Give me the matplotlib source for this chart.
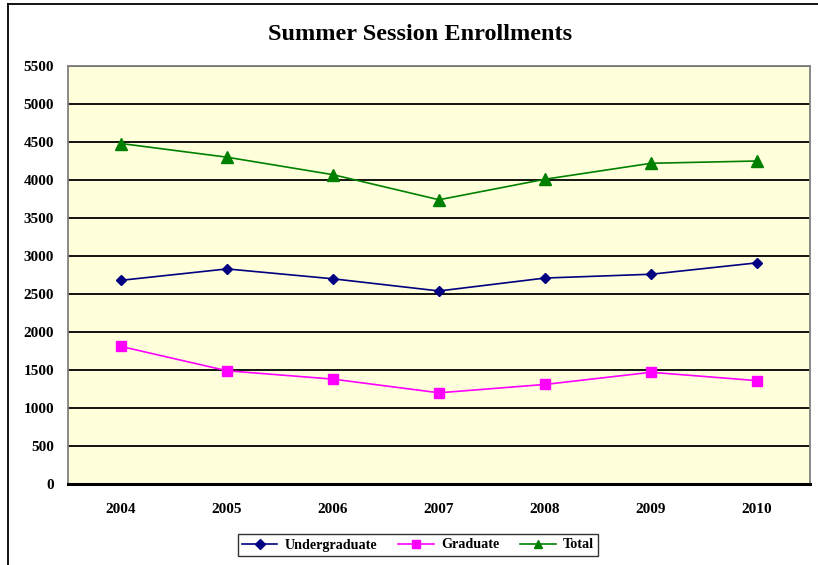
import matplotlib.pyplot as plt

years = ["2004", "2005", "2006", "2007", "2008", "2009", "2010"]
undergrad = [2680, 2830, 2700, 2540, 2710, 2760, 2910]
graduate = [1810, 1490, 1380, 1200, 1310, 1470, 1360]
total = [4480, 4300, 4070, 3740, 4010, 4220, 4250]

plt.rcParams['font.family'] = ['Liberation Serif', 'DejaVu Serif']
plt.rcParams['font.weight'] = 'bold'

fig = plt.figure(figsize=(8.18, 5.65), dpi=100)
ax = fig.add_axes([68/818, 1-484/565, (810-68)/818, (484-66)/565])
ax.set_facecolor('#FFFFDC')

x = range(len(years))
ax.plot(x, undergrad, color='#000080', marker='D', markersize=5.5, linewidth=1.2, label='Undergraduate')
ax.plot(x, graduate, color='#FF00FF', marker='s', markersize=7.5, linewidth=1.2, label='Graduate')
ax.plot(x, total, color='#008000', marker='^', markersize=8, linewidth=1.2, label='Total')

ax.set_xlim(-0.5, 6.5)
ax.set_ylim(0, 5500)
ax.set_yticks(range(0, 5501, 500))
ax.set_xticks(list(x))
ax.set_xticklabels(years)
ax.grid(axis='y', color='black', linewidth=1.3)
ax.set_axisbelow(True)
ax.tick_params(axis='both', length=0, labelsize=11)
ax.tick_params(axis='y', pad=10)
ax.tick_params(axis='x', pad=14)
for s in ['left', 'top', 'right']:
    ax.spines[s].set_color('#808080')
    ax.spines[s].set_linewidth(1.3)
ax.spines['bottom'].set_color('black')
ax.spines['bottom'].set_linewidth(2.2)

fig.text(420/818, 1-34/565, "Summer Session Enrollments", ha='center', va='center',
         fontsize=17.5, fontweight='bold')

leg = fig.legend(loc='center', bbox_to_anchor=(418/818, 1-545/565), ncol=3,
                 fontsize=10.2, frameon=True, fancybox=False, edgecolor='black',
                 handlelength=2.5, handletextpad=0.5, columnspacing=1.5, borderpad=0.3)
leg.get_frame().set_linewidth(1.0)
for h in leg.legend_handles:
    h.set_markersize(5.5)

# outer chart border (cut at right/bottom)
fig.add_artist(plt.Line2D([8/818, 1], [1-4/565, 1-4/565], transform=fig.transFigure, color='black', linewidth=1.3))
fig.add_artist(plt.Line2D([8/818, 8/818], [0, 1-4/565], transform=fig.transFigure, color='black', linewidth=1.3))

fig.savefig('out.png', dpi=100)
